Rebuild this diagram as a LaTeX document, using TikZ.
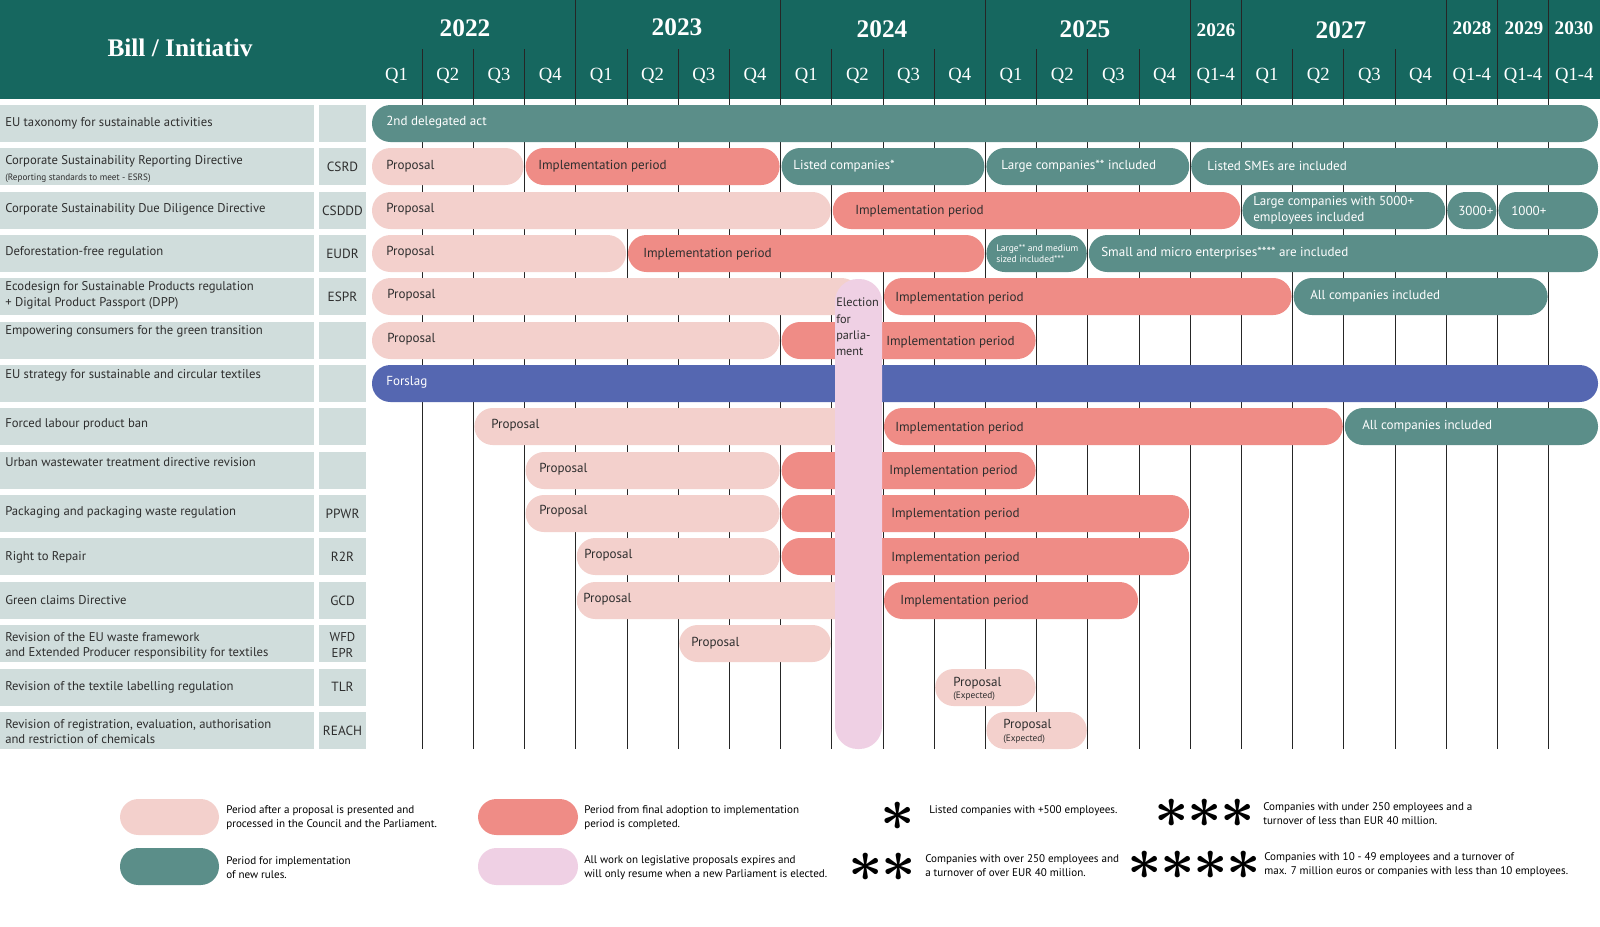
\RequirePackage{fix-cm}
\documentclass[tikz,border=0pt]{standalone}
\usepackage{amsmath}
\usepackage{fontspec}
\setmainfont{PT Sans}
\newfontfamily\headfont{Liberation Serif}
\usepackage{tikz}

\definecolor{headteal}{HTML}{16675F}
\definecolor{cellgrey}{HTML}{D0DDDC}
\definecolor{rollteal}{HTML}{5B8E89}
\definecolor{propink}{HTML}{F3D0CC}
\definecolor{implred}{HTML}{EF8C86}
\definecolor{stratblue}{HTML}{5567B1}
\definecolor{electpink}{HTML}{EFD0E4}
\definecolor{inkgrey}{HTML}{2E2E2E}

\begin{document}
\begin{tikzpicture}[
  x=0.75pt,
  y=-0.75pt,
  cell/.style={fill=cellgrey},
  phase/.style={rounded corners=13.8pt},
  proposal/.style={phase, fill=propink},
  adoption/.style={phase, fill=implred},
  rollout/.style={phase, fill=rollteal},
  strategy/.style={phase, fill=stratblue},
  grid line/.style={draw=black!85, line width=0.6pt},
  bar text/.style={anchor=west, inner sep=0pt, align=left,
    font=\fontsize{9.8}{12}\selectfont, text=inkgrey},
  bar label/.style={bar text, text=white},
  row title/.style={anchor=west, inner sep=0pt, align=left,
    font=\fontsize{9.5}{11.5}\selectfont, text=inkgrey},
  row code/.style={inner sep=0pt, align=center,
    font=\fontsize{10}{12}\selectfont, text=inkgrey},
  year/.style={font=\headfont\bfseries\fontsize{19}{19}\selectfont,
    text=white},
  short year/.style={year,
    font=\headfont\bfseries\fontsize{14.5}{14.5}\selectfont},
  quarter/.style={font=\headfont\fontsize{14}{14}\selectfont, text=white},
  key text/.style={anchor=west, inner sep=0pt, align=left,
    font=\fontsize{8.3}{10.4}\selectfont, text=black},
  key star/.style={inner sep=0pt, font=\fontsize{45}{45}\selectfont}
]
  \fill[white] (0,0) rectangle (1600,926);
  \path[use as bounding box] (0,0) rectangle (1600,926);

  % Header band with years and quarters.
  \fill[headteal] (0,0) rectangle (1600,99);
  \node[year] (billhead) at (180,48) {Bill / Initiativ};
  \node[year] (y22) at (465,28) {2022};
  \node[year] (y23) at (677,27) {2023};
  \node[year] (y24) at (882,29) {2024};
  \node[year] (y25) at (1085,29) {2025};
  \node[short year] (y26) at (1216,30) {2026};
  \node[year] (y27) at (1341,30) {2027};
  \node[short year] (y28) at (1472,28) {2028};
  \node[short year] (y29) at (1524,28) {2029};
  \node[short year] (y30) at (1574,28) {2030};
  \foreach \q [count=\i from 0] in {Q1,Q2,Q3,Q4,Q1,Q2,Q3,Q4,Q1,Q2,Q3,Q4,
      Q1,Q2,Q3,Q4,Q1-4,Q1,Q2,Q3,Q4,Q1-4,Q1-4,Q1-4}
    \node[quarter] (q\i) at ({396.6+51.2*\i},76) {\q};

  % Quarter grid, year lines run up through the header.
  \foreach \i in {1,...,23}
    \draw[grid line] ({371+51.2*\i},49) -- ({371+51.2*\i},749);
  \foreach \i in {4,8,12,16,17,21,22,23}
    \draw[grid line] ({371+51.2*\i},0) -- ({371+51.2*\i},49);

  % Row cells on the left.
  \foreach \t in {105,148,192,235,278,322,365,408,452,495,538,582,625,669,712}{
    \fill[cell] (0,\t) rectangle (314,\t+37);
    \fill[cell] (319,\t) rectangle (366,\t+37);
  }
  \node[row title] (t1) at (5,123.5) {EU taxonomy for sustainable activities};
  \node[row title] (t2) at (5,161)
    {Corporate Sustainability Reporting Directive};
  \node[row title, font=\fontsize{6.9}{8}\selectfont] (t2note) at (5,178.5)
    {(Reporting standards to meet - ESRS)};
  \node[row title] (t3) at (5,209)
    {Corporate Sustainability Due Diligence Directive};
  \node[row title] (t4) at (5,252) {Deforestation-free regulation};
  \node[row title] (t5) at (5,295.5)
    {Ecodesign for Sustainable Products regulation\\
     + Digital Product Passport (DPP)};
  \node[row title] (t6) at (5,331.5)
    {Empowering consumers for the green transition};
  \node[row title] (t7) at (5,375.5)
    {EU strategy for sustainable and circular textiles};
  \node[row title] (t8) at (5,424.5) {Forced labour product ban};
  \node[row title] (t9) at (5,462)
    {Urban wastewater treatment directive revision};
  \node[row title] (t10) at (5,512) {Packaging and packaging waste regulation};
  \node[row title] (t11) at (5,557) {Right to Repair};
  \node[row title] (t12) at (5,600) {Green claims Directive};
  \node[row title] (t13) at (5,645.5)
    {Revision of the EU waste framework\\
     and Extended Producer responsibility for textiles};
  \node[row title] (t14) at (5,687.5)
    {Revision of the textile labelling regulation};
  \node[row title] (t15) at (5,731.5)
    {Revision of registration, evaluation, authorisation\\
     and restriction of chemicals};

  \node[row code] (c2) at (342.5,167) {CSRD};
  \node[row code] (c3) at (342.5,211) {CSDDD};
  \node[row code] (c4) at (342.5,253.5) {EUDR};
  \node[row code] (c5) at (342.5,297) {ESPR};
  \node[row code] (c10) at (342.5,513.5) {PPWR};
  \node[row code] (c11) at (342.5,557) {R2R};
  \node[row code] (c12) at (342.5,600.5) {GCD};
  \node[row code, font=\fontsize{9.6}{11.6}\selectfont] (c13)
    at (342.5,645) {WFD\\EPR};
  \node[row code] (c14) at (342.5,687) {TLR};
  \node[row code] (c15) at (342.5,730.5) {REACH};

  % Taxonomy, CSRD, CSDDD, EUDR.
  \fill[rollout] (372,105) rectangle (1598,142);
  \node[bar label] (tax) at (386,122.5) {2nd delegated act};

  \fill[proposal] (372,148) rectangle (523.6,185);
  \fill[adoption] (525.6,148) rectangle (779.6,185);
  \fill[rollout] (781.6,148) rectangle (984.4,185);
  \fill[rollout] (986.4,148) rectangle (1189.2,185);
  \fill[rollout] (1191.2,148) rectangle (1598,185);
  \node[bar text] (csrdp) at (386,166) {Proposal};
  \node[bar text] (csrdi) at (538,166) {Implementation period};
  \node[bar label] (csrd1) at (793,166) {Listed companies*};
  \node[bar label] (csrd2) at (1001,166) {Large companies** included};
  \node[bar label] (csrd3) at (1207,166) {Listed SMEs are included};

  \fill[proposal] (372,192) rectangle (830.8,229);
  \fill[adoption] (832.8,192) rectangle (1240.4,229);
  \fill[rollout] (1242.4,192) rectangle (1445.2,229);
  \fill[rollout] (1447.2,192) rectangle (1496.4,229);
  \fill[rollout] (1498.4,192) rectangle (1598,229);
  \node[bar text] (csdddp) at (386,209) {Proposal};
  \node[bar text] (csdddi) at (855,211) {Implementation period};
  \node[bar label] (csddd1) at (1253,210.5)
    {Large companies with 5000+\\employees included};
  \node[bar label] (csddd2) at (1458,210.5) {3000+};
  \node[bar label] (csddd3) at (1511,210.5) {1000+};

  \fill[proposal] (372,235) rectangle (626,272);
  \fill[adoption] (628,235) rectangle (984.4,272);
  \fill[rollout] (986.4,235) rectangle (1086.8,272);
  \fill[rollout] (1088.8,235) rectangle (1598,272);
  \node[bar text] (eudrp) at (386,252.5) {Proposal};
  \node[bar text] (eudri) at (643,254) {Implementation period};
  \node[bar label, font=\fontsize{7.1}{8.4}\selectfont] (eudr1)
    at (996,253.5) {Large** and medium\\sized included***};
  \node[bar label] (eudr2) at (1101,253)
    {Small and micro enterprises**** are included};

  % ESPR, consumers, textiles strategy, forced labour.
  \fill[proposal] (372,278) rectangle (860,315);
  \fill[adoption] (884,278) rectangle (1291.6,315);
  \fill[rollout] (1293.6,278) rectangle (1547.6,315);
  \node[bar text] (esprp) at (387,295.5) {Proposal};
  \node[bar text] (espri) at (895,298) {Implementation period};
  \node[bar label] (espr1) at (1310,296) {All companies included};

  \fill[proposal] (372,322) rectangle (779.6,359);
  \fill[adoption] (781.6,322) rectangle (1035.6,359);
  \node[bar text] (empp) at (387,339) {Proposal};
  \node[bar text] (empi) at (886,342) {Implementation period};

  \fill[strategy] (372,365) rectangle (1598,402);
  \node[bar label] (textile) at (386,382.5) {Forslag};

  \fill[proposal] (474.4,408) rectangle (860,445);
  \fill[adoption] (884,408) rectangle (1342.8,445);
  \fill[rollout] (1344.8,408) rectangle (1598,445);
  \node[bar text] (forcep) at (491,425.5) {Proposal};
  \node[bar text] (forcei) at (895,428) {Implementation period};
  \node[bar label] (force1) at (1362,426.5) {All companies included};

  % Later proposals.
  \fill[proposal] (525.6,452) rectangle (779.6,489);
  \fill[adoption] (781.6,452) rectangle (1035.6,489);
  \node[bar text] (uwwp) at (539,469) {Proposal};
  \node[bar text] (uwwi) at (889,471.5) {Implementation period};

  \fill[proposal] (525.6,495) rectangle (779.6,532);
  \fill[adoption] (781.6,495) rectangle (1189.2,532);
  \node[bar text] (ppwrp) at (539,511.5) {Proposal};
  \node[bar text] (ppwri) at (891,514) {Implementation period};

  \fill[proposal] (576.8,538) rectangle (779.6,575);
  \fill[adoption] (781.6,538) rectangle (1189.2,575);
  \node[bar text] (r2rp) at (584,555.5) {Proposal};
  \node[bar text] (r2ri) at (891,558) {Implementation period};

  \fill[proposal] (576.8,582) rectangle (860,619);
  \fill[adoption] (884,582) rectangle (1138,619);
  \node[bar text] (gcdp) at (583,599) {Proposal};
  \node[bar text] (gcdi) at (900,601.5) {Implementation period};

  \fill[proposal] (679.2,625) rectangle (830.8,662);
  \node[bar text] (wfdp) at (691,643) {Proposal};

  \fill[proposal] (935.2,669) rectangle (1035.6,706);
  \node[bar text] (tlrp) at (953,689)
    {Proposal\\[-2.5pt]\fontsize{7}{8}\selectfont(Expected)};

  \fill[proposal] (986.4,712) rectangle (1086.8,749);
  \node[bar text] (reachp) at (1003,731.5)
    {Proposal\\[-2.5pt]\fontsize{7}{8}\selectfont(Expected)};

  % Election pause across the lower rows.
  \fill[electpink, rounded corners=17pt] (835,279) rectangle (882,749);
  \node[bar text, anchor=north west, font=\fontsize{9.2}{12.2}\selectfont]
    (election) at (836,298) {Election\\for\\parlia-\\ment};

  % Key.
  \fill[proposal] (120,799) rectangle (219,835);
  \node[key text] (keyprop) at (226,818)
    {Period after a proposal is presented and\\
     processed in the Council and the Parliament.};
  \fill[rollout] (120,848) rectangle (219,885);
  \node[key text] (keyroll) at (226,868)
    {Period for implementation\\of new rules.};
  \fill[adoption] (478,799) rectangle (578,835);
  \node[key text] (keyimpl) at (584,818)
    {Period from final adoption to implementation\\period is completed.};
  \fill[electpink, rounded corners=13.8pt] (478,848) rectangle (578,885);
  \node[key text] (keyelect) at (584,868)
    {All work on legislative proposals expires and\\
     will only resume when a new Parliament is elected.};

  % Asterisk keys, one glyph per company size.
  \node[key star] (star1) at (898,816) {$\boldsymbol{\ast}$};
  \node[key text] (star1t) at (929,811) {Listed companies with +500 employees.};
  \node[key star] (star2) at (882,867)
    {$\boldsymbol{\ast}$\kern-1pt$\boldsymbol{\ast}$};
  \node[key text] (star2t) at (925,866)
    {Companies with over 250 employees and\\
     a turnover of over EUR 40 million.};
  \node[key star] (star3) at (1205,813)
    {$\boldsymbol{\ast}$\kern-1pt$\boldsymbol{\ast}$\kern-1pt$\boldsymbol{\ast}$};
  \node[key text] (star3t) at (1263,814)
    {Companies with under 250 employees and a\\
     turnover of less than EUR 40 million.};
  \node[key star] (star4) at (1194,865)
    {$\boldsymbol{\ast}$\kern-1pt$\boldsymbol{\ast}$\kern-1pt%
     $\boldsymbol{\ast}$\kern-1pt$\boldsymbol{\ast}$};
  \node[key text] (star4t) at (1264,865)
    {Companies with 10 - 49 employees and a turnover of\\
     max. 7 million euros or companies with less than 10 employees.};
\end{tikzpicture}
\end{document}
